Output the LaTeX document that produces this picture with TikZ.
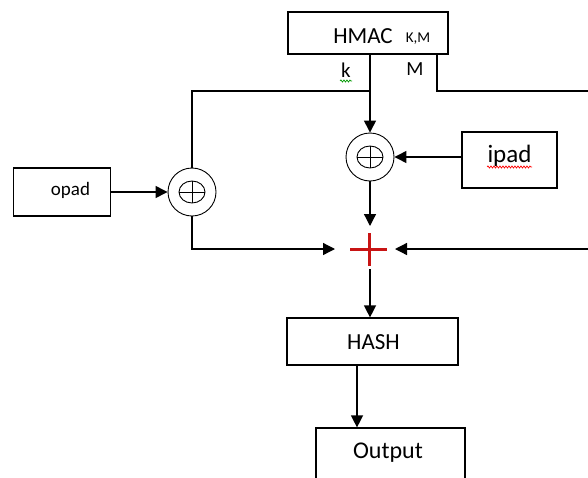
\documentclass[tikz,border=0pt]{standalone}
\usepackage{fontspec}
\setmainfont{Carlito}
\usetikzlibrary{arrows.meta,decorations.pathmorphing}
\begin{document}
\begin{tikzpicture}[x=1pt,y=-1pt,
  box/.style={draw, line width=1.2pt, inner sep=0pt},
  conn/.style={line width=1.3pt},
  arr/.style={conn,-{Triangle[length=12pt,width=12pt]}},
  xorc/.style={circle, draw, line width=0.9pt, minimum size=48pt, inner sep=0pt},
  lbl/.style={anchor=base, inner sep=0pt},
  redcross/.style={draw={rgb,255:red,200;green,20;blue,20}, line width=3pt},
  squig/.style={decorate, decoration={snake, amplitude=1pt, segment length=3pt}, line width=0.7pt}
]
\useasboundingbox (0,0) rectangle (588,477);
\clip (0,0) rectangle (588,477);

% boxes
\node[box, minimum width=160pt, minimum height=42pt] (hmac) at (368,33) {};
\node[box, minimum width=97pt, minimum height=48pt] (opad) at (62,192) {};
\node[box, minimum width=95pt, minimum height=56pt] (ipad) at (509.5,160) {};
\node[box, minimum width=171pt, minimum height=47pt] (hash) at (372.5,341.5) {};
\node[box, minimum width=149pt, minimum height=80pt] (out) at (390.5,468) {};

% texts
\node[lbl, font=\fontsize{23}{26}\selectfont] (thmac) at (363,43) {HMAC};
\node[lbl, font=\fontsize{15}{18}\selectfont] (tkm) at (418,42) {K,M};
\node[lbl, font=\fontsize{21}{24}\selectfont] (tk) at (346,77) {k};
\node[lbl, font=\fontsize{20}{24}\selectfont] (tm) at (415,75) {M};
\node[lbl, font=\fontsize{19}{22}\selectfont] (topad) at (70.5,195) {opad};
\node[lbl, font=\fontsize{25}{28}\selectfont] (tipad) at (509.5,162) {ipad};
\node[lbl, font=\fontsize{23}{26}\selectfont] (thash) at (373.5,349) {HASH};
\node[lbl, font=\fontsize{24}{28}\selectfont] (tout) at (388,458) {Output};

% spell-check squiggles
\draw[squig, green!60!black] (340,81) -- (352,81);
\draw[squig, red] (487,167) -- (532,167);

% xor circles
\node[xorc] (c1) at (370,157) {};
\node[xorc] (c2) at (192,192) {};
\foreach \c in {c1,c2}{
  \draw[line width=0.9pt] (\c.center) ellipse [x radius=13, y radius=11];
  \draw[line width=0.9pt] (\c.center) ++(-13,0) -- ++(26,0);
  \draw[line width=0.9pt] (\c.center) ++(0,-11) -- ++(0,22);
}

% red plus
\coordinate (plus) at (369,249);
\draw[redcross] (plus) ++(-19,0) -- ++(37,0);
\draw[redcross] (plus) ++(0,-16) -- ++(0,33);

% connector points
\coordinate (kj) at (370,91);
\coordinate (mout) at (437,54);
\coordinate (mend) at (588,91);
\coordinate (ptop) at (370,226);
\coordinate (pl) at (335,249);
\coordinate (pr) at (395,249);
\coordinate (rin) at (588,249);
\coordinate (pbot) at (370,269);

% connectors
\draw[arr] (hmac.south -| c1.north) -- (c1.north);
\draw[conn] (mout) |- (mend);
\draw[conn] (kj) -| (c2.north);
\draw[arr] (opad.east) -- (c2.west);
\draw[arr] (ipad.west |- c1.east) -- (c1.east);
\draw[arr] (c1.south) -- (ptop);
\draw[arr] (c2.south) |- (pl);
\draw[arr] (rin) -- (pr);
\draw[arr] (pbot) -- (pbot |- hash.north);
\draw[arr] ([xshift=-15.5pt]hash.south) -- ([xshift=-15.5pt]hash.south |- out.north);
\end{tikzpicture}
\end{document}
